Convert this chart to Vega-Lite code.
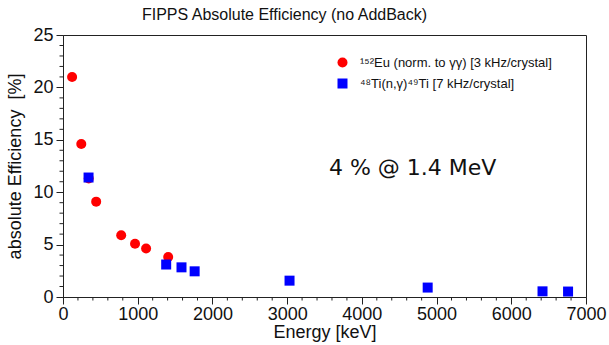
{
  "$schema": "https://vega.github.io/schema/vega-lite/v6.json",
  "width": 523,
  "height": 262,
  "autosize": {"type": "none"},
  "padding": {"left": 63, "top": 35, "right": 23, "bottom": 48},
  "background": "white",
  "config": {
    "font": "Liberation Sans",
    "view": {"stroke": "#222", "strokeWidth": 1},
    "axis": {"grid": false, "domainColor": "#222", "tickColor": "#222", "labelColor": "#111", "titleColor": "#111", "labelFont": "Liberation Sans", "titleFont": "Liberation Sans", "titleFontWeight": "normal", "labelFontSize": 18, "titleFontSize": 18, "labelOverlap": false, "labelBound": false, "labelFlush": false}
  },
  "title": {"text": "FIPPS Absolute Efficiency (no AddBack)", "font": "Liberation Sans", "fontSize": 16, "fontWeight": "normal", "color": "#111", "anchor": "middle", "dx": -40, "offset": 3},
  "layer": [
    {
      "data": {"values": [
        {"series": "¹⁵²Eu (norm. to γγ) [3 kHz/crystal]", "energy": 121.8, "eff": 21.0},
        {"series": "¹⁵²Eu (norm. to γγ) [3 kHz/crystal]", "energy": 244.7, "eff": 14.6},
        {"series": "¹⁵²Eu (norm. to γγ) [3 kHz/crystal]", "energy": 344.3, "eff": 11.3},
        {"series": "¹⁵²Eu (norm. to γγ) [3 kHz/crystal]", "energy": 444.0, "eff": 9.1},
        {"series": "¹⁵²Eu (norm. to γγ) [3 kHz/crystal]", "energy": 778.9, "eff": 5.9},
        {"series": "¹⁵²Eu (norm. to γγ) [3 kHz/crystal]", "energy": 964.1, "eff": 5.08},
        {"series": "¹⁵²Eu (norm. to γγ) [3 kHz/crystal]", "energy": 1112.1, "eff": 4.63},
        {"series": "¹⁵²Eu (norm. to γγ) [3 kHz/crystal]", "energy": 1408.0, "eff": 3.82},
        {"series": "⁴⁸Ti(n,γ)⁴⁹Ti [7 kHz/crystal]", "energy": 342, "eff": 11.4},
        {"series": "⁴⁸Ti(n,γ)⁴⁹Ti [7 kHz/crystal]", "energy": 1381, "eff": 3.1},
        {"series": "⁴⁸Ti(n,γ)⁴⁹Ti [7 kHz/crystal]", "energy": 1586, "eff": 2.83},
        {"series": "⁴⁸Ti(n,γ)⁴⁹Ti [7 kHz/crystal]", "energy": 1762, "eff": 2.45},
        {"series": "⁴⁸Ti(n,γ)⁴⁹Ti [7 kHz/crystal]", "energy": 3032, "eff": 1.56},
        {"series": "⁴⁸Ti(n,γ)⁴⁹Ti [7 kHz/crystal]", "energy": 4881, "eff": 0.9},
        {"series": "⁴⁸Ti(n,γ)⁴⁹Ti [7 kHz/crystal]", "energy": 6418, "eff": 0.54},
        {"series": "⁴⁸Ti(n,γ)⁴⁹Ti [7 kHz/crystal]", "energy": 6760, "eff": 0.52}
      ]},
      "mark": {"type": "point", "filled": true, "opacity": 1, "size": 100},
      "encoding": {
        "x": {"field": "energy", "type": "quantitative",
          "scale": {"domain": [0, 7000], "nice": false, "zero": false},
          "axis": {"title": "Energy [keV]", "values": [0,1000,2000,3000,4000,5000,6000,7000],
            "format": "d", "tickSize": 7,
            "labelPadding": 1, "titlePadding": 0}},
        "y": {"field": "eff", "type": "quantitative",
          "scale": {"domain": [0, 25], "nice": false, "zero": false},
          "axis": {"title": "absolute Efficiency\u00a0 [%]", "values": [0,5,10,15,20,25],
            "tickSize": 7,
            "labelPadding": 3, "titlePadding": 8}},
        "color": {"field": "series", "type": "nominal",
          "scale": {"domain": ["¹⁵²Eu (norm. to γγ) [3 kHz/crystal]", "⁴⁸Ti(n,γ)⁴⁹Ti [7 kHz/crystal]"], "range": ["#ff0000", "#0000ff"]},
          "legend": {"title": null, "orient": "none", "legendX": 273, "legendY": 21, "labelFontSize": 13, "labelFont": "Liberation Sans", "labelColor": "#111", "labelLimit": 400, "symbolSize": 100, "rowPadding": 7, "labelOffset": 11, "padding": 0}},
        "shape": {"field": "series", "type": "nominal",
          "scale": {"domain": ["¹⁵²Eu (norm. to γγ) [3 kHz/crystal]", "⁴⁸Ti(n,γ)⁴⁹Ti [7 kHz/crystal]"], "range": ["circle", "square"]}}
      }
    },
    {
      "data": {"values": [
        {"e": 200}, {"e": 400}, {"e": 600}, {"e": 800},
        {"e": 1200}, {"e": 1400}, {"e": 1600}, {"e": 1800},
        {"e": 2200}, {"e": 2400}, {"e": 2600}, {"e": 2800},
        {"e": 3200}, {"e": 3400}, {"e": 3600}, {"e": 3800},
        {"e": 4200}, {"e": 4400}, {"e": 4600}, {"e": 4800},
        {"e": 5200}, {"e": 5400}, {"e": 5600}, {"e": 5800},
        {"e": 6200}, {"e": 6400}, {"e": 6600}, {"e": 6800}
      ]},
      "mark": {"type": "tick", "orient": "vertical", "size": 3.5, "thickness": 1, "color": "#222", "opacity": 1, "yOffset": 1.75},
      "encoding": {
        "x": {"field": "e", "type": "quantitative"},
        "y": {"datum": 0, "type": "quantitative"}
      }
    },
    {
      "data": {"values": [
        {"v": 1}, {"v": 2}, {"v": 3}, {"v": 4},
        {"v": 6}, {"v": 7}, {"v": 8}, {"v": 9},
        {"v": 11}, {"v": 12}, {"v": 13}, {"v": 14},
        {"v": 16}, {"v": 17}, {"v": 18}, {"v": 19},
        {"v": 21}, {"v": 22}, {"v": 23}, {"v": 24}
      ]},
      "mark": {"type": "tick", "orient": "horizontal", "size": 3.5, "thickness": 1, "color": "#222", "opacity": 1, "xOffset": -1.75},
      "encoding": {
        "y": {"field": "v", "type": "quantitative"},
        "x": {"datum": 0, "type": "quantitative"}
      }
    },
    {
      "data": {"values": [{"note": "4 % @ 1.4 MeV", "energy": 4680, "eff": 12.3}]},
      "mark": {"type": "text", "font": "DejaVu Sans", "fontWeight": "normal", "fontSize": 22, "fill": "#111", "align": "center", "baseline": "middle"},
      "encoding": {
        "x": {"field": "energy", "type": "quantitative"},
        "y": {"field": "eff", "type": "quantitative"},
        "text": {"field": "note"}
      }
    }
  ]
}
